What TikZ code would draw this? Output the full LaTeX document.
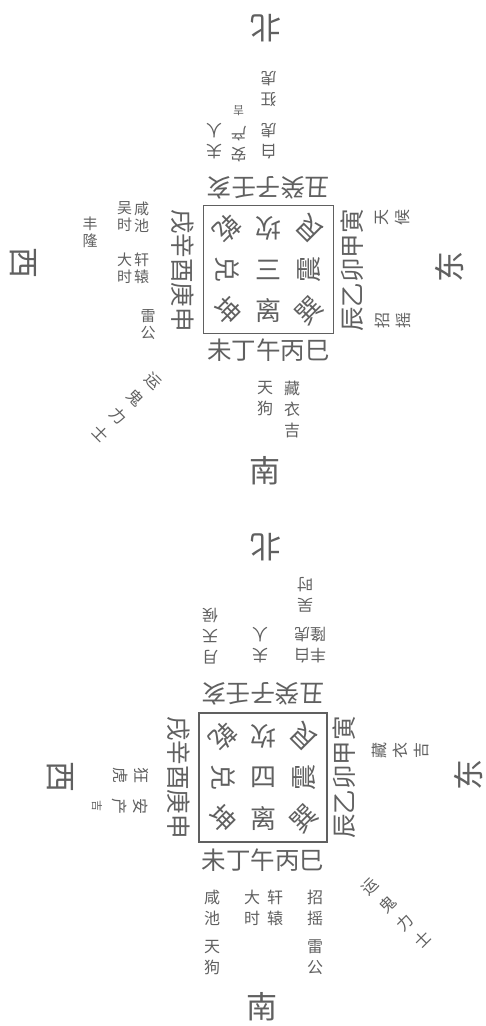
\documentclass[tikz,border=0pt]{standalone}
\usepackage{fontspec}
\newfontfamily\cjk{Noto Sans CJK SC}
\definecolor{ink}{RGB}{96,96,96}
\newcommand\fangfont{\cjk\fontsize{31}{31}\selectfont}
\newcommand\guafont{\cjk\fontsize{26}{26}\selectfont}
\newcommand\zhifont{\cjk\fontsize{24.5}{24.5}\selectfont}
\newcommand\shenfont{\cjk\fontsize{16}{21}\selectfont}
\newcommand\jinfont{\cjk\fontsize{15}{17}\selectfont}
\newcommand\jifont{\cjk\fontsize{11}{13}\selectfont}
\tikzset{
  fang/.style={font=\fangfont,text=ink,inner sep=0pt},
  gua/.style={font=\guafont,text=ink,inner sep=0pt},
  zhi/.style={font=\zhifont,text=ink,inner sep=0pt},
  shen/.style={font=\shenfont,text=ink,inner sep=0pt,align=center},
  shenjin/.style={shen,font=\jinfont},
  gong/.style={draw=ink,line width=1.5pt}
}

\begin{document}
\begin{tikzpicture}[x=1pt,y=-1pt]
\fill[white] (0,0) rectangle (486,1026);
\useasboundingbox (0,0) rectangle (486,1026);
%UPPER FIGURE
\begin{scope}[shift={(268.5,269.5)}]
%palace
\draw[gong] (-65,-64) rectangle (65,64);
\node[gua,rotate=-135] (qian1) at (-41,-41) {乾};
\node[gua,rotate=180] (kan1) at (0,-41) {坎};
\node[gua,rotate=135] (gen1) at (41,-41) {艮};
\node[gua,rotate=-90] (dui1) at (-41,0) {兑};
\node[gua] (zhong1) at (0,0) {三};
\node[gua,rotate=90] (zhen1) at (41,0) {震};
\node[gua,rotate=-45] (kun1) at (-41,41) {坤};
\node[gua] (li1) at (0,41) {离};
\node[gua,rotate=45] (xun1) at (41,41) {巽};
%branches
\node[zhi,rotate=180] (beizhi1) at (0,-82) {丑癸子壬亥};
\node[zhi] (nanzhi1) at (0,81) {未丁午丙巳};
\node[zhi,rotate=-90] (xizhi1) at (-86,1) {戌辛酉庚申};
\node[zhi,rotate=90] (dongzhi1) at (83.5,1) {辰乙卯甲寅};
%quarters
\node[fang,rotate=180] (bei1) at (-2.5,-241.5) {北};
\node[fang] (nan1) at (-3.5,201.5) {南};
\node[fang,rotate=-90] (xi1) at (-245.5,-6.5) {西};
\node[fang,rotate=90] (dong1) at (180.5,-2.5) {东};
%spirits
\node[shen,rotate=180] (furen1) at (-54.5,-128.5) {夫\\人};
\node[shen,rotate=180] (anchan1) at (-30,-136) {安\\产\\{\jifont 吉}};
\node[shen,rotate=180] (baihu1) at (0,-128.5) {白\\虎};
\node[shen,rotate=180] (kuanghu1) at (0,-181) {狂\\虎};
\node[shenjin] (wushi1) at (-144,-52.5) {吴\\时};
\node[shenjin] (xianchi1) at (-127,-52.5) {咸\\池};
\node[shenjin] (fenglong1) at (-178.5,-37.5) {丰\\隆};
\node[shenjin] (dashi1) at (-144,-1) {大\\时};
\node[shenjin] (xuanyuan1) at (-127,-1) {轩\\辕};
\node[shenjin] (leigong1) at (-120.5,55) {雷\\公};
\node[shen,rotate=90] (tianhou1) at (124.5,-52.5) {天\\候};
\node[shen,rotate=90] (zhaoyao1) at (124.5,50.5) {招\\摇};
\node[shen] (tiangou1) at (-3.5,129.5) {天\\狗};
\node[shen] (cangyi1) at (23.5,139.5) {藏\\衣\\吉};
\node[shen,rotate=-45,font=\cjk\fontsize{16}{25}\selectfont] (yungui1) at (-141.5,137.5) {运\\鬼\\力\\士};
\end{scope}
%LOWER FIGURE
\begin{scope}[shift={(263,777.5)}]
%palace
\draw[gong] (-64,-64.5) rectangle (64,64.5);
\node[gua,rotate=-135] (qian2) at (-40,-41) {乾};
\node[gua,rotate=180] (kan2) at (0,-41) {坎};
\node[gua,rotate=135] (gen2) at (41,-41) {艮};
\node[gua,rotate=-90] (dui2) at (-40,0) {兑};
\node[gua] (zhong2) at (0,0) {四};
\node[gua,rotate=90] (zhen2) at (41,0) {震};
\node[gua,rotate=-45] (kun2) at (-40,41) {坤};
\node[gua] (li2) at (0,41) {离};
\node[gua,rotate=45] (xun2) at (41,41) {巽};
%branches
\node[zhi,rotate=180] (beizhi2) at (0,-83.5) {丑癸子壬亥};
\node[zhi] (nanzhi2) at (0,82.5) {未丁午丙巳};
\node[zhi,rotate=-90] (xizhi2) at (-84,0) {戌辛酉庚申};
\node[zhi,rotate=90] (dongzhi2) at (81,0) {辰乙卯甲寅};
%quarters
\node[fang,rotate=180] (bei2) at (3,-230.5) {北};
\node[fang] (nan2) at (-1,229.5) {南};
\node[fang,rotate=-90] (xi2) at (-203,-0.5) {西};
\node[fang,rotate=90] (dong2) at (205,-2.5) {东};
%spirits
\node[shen,rotate=180] (tianhou2) at (-53,-141.5) {月\\天\\候};
\node[shen,rotate=180] (furen2) at (-3,-132.5) {夫\\人};
\node[shen,rotate=180] (baihu2) at (39,-132.5) {白\\虎};
\node[shen,rotate=180] (fenglong2) at (55,-132.5) {丰\\隆};
\node[shen,rotate=180] (wushi2) at (42,-182.5) {吴\\时};
\node[shen,rotate=-90] (kuanghu2) at (-132,-2.5) {狂\\虎};
\node[shen,rotate=-90] (anchan2) at (-143,28.5) {安\\产\\{\jifont 吉}};
\node[shen,rotate=90] (cangyi2) at (137,-27.5) {藏\\衣\\吉};
\node[shen] (xianchi2) at (-51,130) {咸\\池};
\node[shen] (tiangou2) at (-51,180) {天\\狗};
\node[shen] (dashi2) at (-11,130) {大\\时};
\node[shen] (xuanyuan2) at (12,130) {轩\\辕};
\node[shen] (zhaoyao2) at (52,130) {招\\摇};
\node[shen] (leigong2) at (52,180) {雷\\公};
\node[shen,rotate=45,font=\cjk\fontsize{16}{25}\selectfont] (yungui2) at (133.5,136) {运\\鬼\\力\\士};
\end{scope}
\end{tikzpicture}
\end{document}
